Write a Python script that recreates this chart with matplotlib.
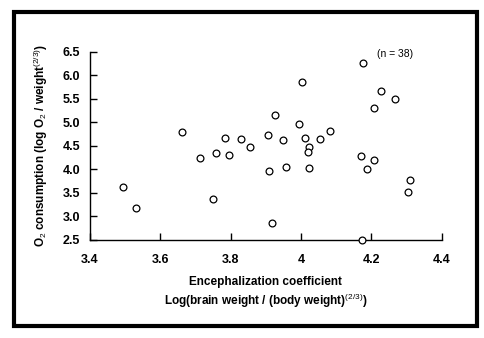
import matplotlib
matplotlib.use("Agg")
import matplotlib.pyplot as plt
from matplotlib.patches import Rectangle

plt.rcParams['font.family'] = ['Liberation Sans', 'DejaVu Sans']
plt.rcParams['mathtext.fontset'] = 'custom'
plt.rcParams['mathtext.rm'] = 'Liberation Sans'
plt.rcParams['mathtext.it'] = 'Liberation Sans'

# encephalization coefficient vs O2 consumption, one point per species
enceph = [3.493, 3.530, 3.750, 3.661, 3.713, 3.759, 3.783, 3.794, 3.829, 3.856,
          4.003, 3.926, 3.993, 3.907, 3.948, 4.012, 4.055, 4.082, 4.024, 4.021,
          3.909, 3.957, 4.022, 3.918, 4.175, 4.226, 4.268, 4.207, 4.171, 4.208,
          4.187, 4.309, 4.304, 4.173]
o2 = [3.62, 3.19, 3.37, 4.79, 4.25, 4.35, 4.67, 4.31, 4.65, 4.475,
      5.855, 5.15, 4.96, 4.73, 4.62, 4.67, 4.65, 4.81, 4.48, 4.36,
      3.97, 4.06, 4.04, 2.87, 6.25, 5.67, 5.49, 5.31, 4.29, 4.20,
      4.00, 3.78, 3.525, 2.50]

xticks = [3.4, 3.6, 3.8, 4.0, 4.2, 4.4]
xtick_labels = ['3.4', '3.6', '3.8', '4', '4.2', '4.4']
yticks = [2.5, 3.0, 3.5, 4.0, 4.5, 5.0, 5.5, 6.0, 6.5]

W, H = 485, 338
fig = plt.figure(figsize=(W / 100, H / 100), dpi=100)
ax = fig.add_axes([90 / W, 1 - 240 / H, 351.7 / W, 188.3 / H])

ax.scatter(enceph, o2, s=24, facecolors='white', edgecolors='black',
           linewidths=0.9, clip_on=False, zorder=3)

ax.set_xlim(3.4, 4.4)
ax.set_ylim(2.5, 6.5)
ax.set_xticks(xticks)
ax.set_xticklabels(xtick_labels)
ax.set_yticks(yticks)
ax.set_yticklabels(['%.1f' % v for v in yticks])
ax.tick_params(direction='in', length=5, width=1, labelsize=9)
ax.tick_params(axis='x', pad=10)
ax.tick_params(axis='y', pad=7)
for lab in ax.get_xticklabels() + ax.get_yticklabels():
    lab.set_fontweight('bold')
for s in ['top', 'right']:
    ax.spines[s].set_visible(False)
for s in ['left', 'bottom']:
    ax.spines[s].set_linewidth(1)

ax.set_xlabel('Encephalization coefficient\n'
              'Log(brain weight / (body weight)$^{(2/3)}$)',
              fontsize=8.5, fontweight='bold', labelpad=7, linespacing=1.3)
ax.set_ylabel('O$_2$ consumption (log O$_2$ / weight$^{(2/3)}$)',
              fontsize=8.5, fontweight='bold', labelpad=9)

ax.text(0.918, 0.99, '(n = 38)', transform=ax.transAxes, fontsize=7.5,
        ha='right', va='center')

# heavy border round the whole figure
fig.patches.append(Rectangle((13.5 / W, 1 - 325.5 / H), 463.5 / W, 314 / H,
                             transform=fig.transFigure, fill=False,
                             edgecolor='black', linewidth=3))

fig.savefig('out.png', dpi=100)
